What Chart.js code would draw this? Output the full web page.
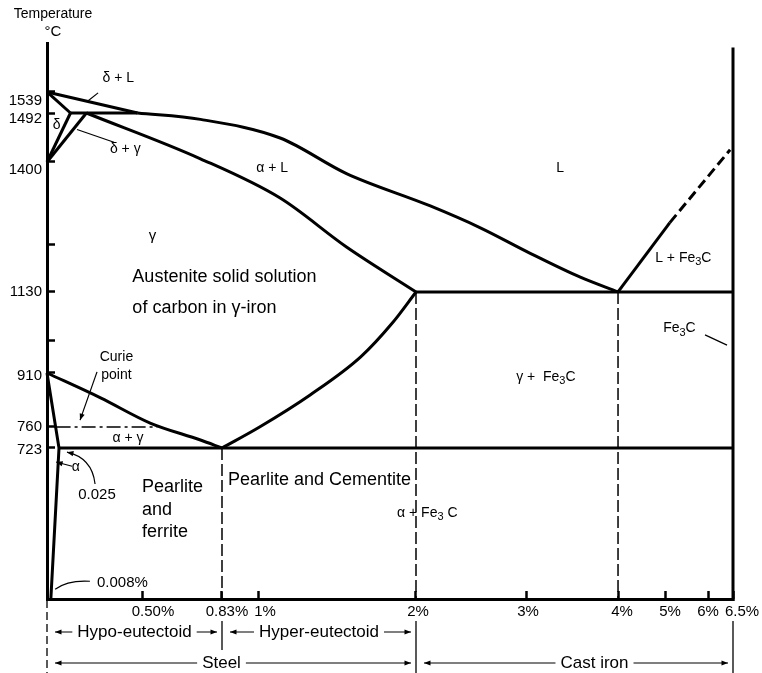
<!DOCTYPE html>
<html>
<head>
<meta charset="utf-8">
<title>Iron-carbon equilibrium diagram</title>
<script src="https://cdn.jsdelivr.net/npm/chart.js@4.4.1/dist/chart.umd.min.js"></script>
<style>
  html, body { margin: 0; padding: 0; background: #fff; }
  #wrap { width: 762px; height: 673px; }
</style>
</head>
<body>
<div id="wrap"><canvas id="diagram" width="762" height="673"></canvas></div>
<script>
// Iron-carbon phase diagram drawn on two non-linear (piecewise) axes

const FONT = "'Liberation Sans', Arial, Helvetica, sans-serif";

// axis ticks
const carbonTicks = [0.5, 0.83, 1, 2, 3, 4, 5, 6, 6.5];
const carbonLabels = ['0.50%', '0.83%', '1%', '2%', '3%', '4%', '5%', '6%', '6.5%'];
const tempTicks = [723, 760, 910, 1000, 1130, 1200, 1400, 1492, 1539];
const tempLabels = ['723', '760', '910', '', '1130', '', '1400', '1492', '1539'];

// phase boundaries, [carbon %, temperature °C]
const deltaLiquidus = [[0, 1539], [0.47, 1492]];
const liquidus = [[0.47, 1492], [0.74, 1480], [1.14, 1445], [1.56, 1372], [2.13, 1294], [2.58, 1242], [3.04, 1188], [3.59, 1152], [4, 1130]];
const deltaSolidus = [[0, 1539], [0.09, 1492]];
const peritectic = [[0.09, 1492], [0.47, 1492]];
const deltaSolvus = [[0.09, 1492], [0, 1400]];
const gammaDelta = [[0.18, 1492], [0, 1400]];
const solidus = [[0.18, 1492], [0.74, 1406], [1.14, 1313], [1.56, 1197], [2, 1130]];
const eutectic = [[2, 1130], [6.5, 1130]];
const cementiteLiquidus = [[4, 1130], [5.11, 1254]];
const cementiteLiquidusExt = [[5.11, 1254], [6.44, 1423]];
const a3Line = [[0, 910], [0.26, 841], [0.53, 771], [0.74, 737], [0.83, 723]];
const acmLine = [[0.83, 723], [1.01, 760], [1.33, 849], [1.65, 954], [1.85, 1046], [2, 1130]];
const ferriteSolvus = [[0, 910], [0.025, 723], [0.008, 400]];
const eutectoid = [[0.025, 723], [6.5, 723]];
const cementiteLine = [[6.5, 400], [6.5, 1640]];
const curieLine = [[0.02, 760], [0.56, 760]];
const eutectoidDrop = [[0.83, 723], [0.83, 400]];
const steelLimit = [[2, 1130], [2, 400]];
const eutecticDrop = [[4, 1130], [4, 400]];

// where each axis value sits along the axis (value, fraction of axis length)
const axisBreaks = {
  x: [[0, 0], [0.025, 0.0175], [0.5, 0.1399], [0.83, 0.2551], [1, 0.3076], [2, 0.5379],
      [3, 0.6983], [4, 0.8324], [5, 0.9009], [6, 0.965], [6.5, 1]],
  y: [[400, 0], [723, 0.2716], [760, 0.3094], [910, 0.4065], [1000, 0.4658], [1130, 0.5522],
      [1200, 0.6367], [1400, 0.786], [1492, 0.8741], [1539, 0.9119], [1650, 1]]
};

// small sideways / downward shifts of the tick labels, in px
const carbonLabelNudge = [10, 5, 7, 2, 2, 4, 5, -1, 9];
const tempLabelNudge = [2, 0, 3, 0, 0, 0, 8, 6, 9];

// region names, placed in axis units
const regionLabels = [
  { text: 'δ + L', x: 0.36, y: 1571, size: 14 },
  { text: 'δ', x: 0.02, y: 1470, size: 14 },
  { text: 'δ + γ', x: 0.40, y: 1425, size: 14 },
  { text: 'α + L', x: 1.09, y: 1386, size: 14 },
  { text: 'L', x: 3.37, y: 1384, size: 14 },
  { text: 'γ', x: 0.54, y: 1221, size: 15 },
  { text: 'Austenite solid solution', x: 0.44, y: 1152, size: 18, align: 'left' },
  { text: 'of carbon in γ-iron', x: 0.44, y: 1087, size: 18, align: 'left' },
  { text: 'L + Fe_3C', x: 4.79, y: 1181, size: 14, align: 'left' },
  { text: 'Fe_3C', x: 4.96, y: 1032, size: 14, align: 'left' },
  { text: 'γ +  Fe_3C', x: 2.91, y: 899, size: 14, align: 'left' },
  { text: 'Curie', x: 0.35, y: 954, size: 14 },
  { text: 'point', x: 0.35, y: 904, size: 14 },
  { text: 'α + γ', x: 0.415, y: 741, size: 14 },
  { text: 'α', x: 0.12, y: 682, size: 14 },
  { text: '0.025', x: 0.24, y: 622, size: 15 },
  { text: 'Pearlite', x: 0.494, y: 640, size: 18, align: 'left' },
  { text: 'and', x: 0.494, y: 590, size: 18, align: 'left' },
  { text: 'ferrite', x: 0.494, y: 543, size: 18, align: 'left' },
  { text: 'Pearlite and Cementite', x: 0.858, y: 655, size: 18, align: 'left' },
  { text: 'α + Fe_3 C', x: 1.88, y: 584, size: 14, align: 'left' },
  { text: '0.008%', x: 0.24, y: 434, size: 15, align: 'left' }
];

// leader lines from labels to the boundaries they name
const leaders = [
  { from: [0.246, 1537], to: [0.183, 1517] },
  { from: [0.336, 1437], to: [0.127, 1461] },
  { from: [0.24, 913], to: [0.144, 779], head: true },
  { from: [0.099, 684], to: [0.019, 693], head: true },
  { from: [0.229, 646], via: [0.212, 702], to: [0.07, 714], head: true },
  { from: [0.2, 438], via: [0.076, 441], to: [0.017, 421] },
  { from: [5.91, 1014], to: [6.375, 986] }
];

// composition ranges under the axis
const rangeBands = [
  { text: 'Hypo-eutectoid', from: 0, to: 0.83, row: 0, shift: 0 },
  { text: 'Hyper-eutectoid', from: 0.83, to: 2, row: 0, shift: 0 },
  { text: 'Steel', from: 0, to: 2, row: 1, shift: -10 },
  { text: 'Cast iron', from: 2, to: 6.5, row: 1, shift: 20 }
];
const bandEdges = [
  { at: 0, top: 1, bottom: 74, dash: [8, 4] },
  { at: 0.83, top: 22, bottom: 51 },
  { at: 2, top: 22, bottom: 74 },
  { at: 6.5, top: 22, bottom: 74 }
];

function toFraction(value, breaks) {
  for (let i = 1; i < breaks.length; i++) {
    const [v0, f0] = breaks[i - 1];
    const [v1, f1] = breaks[i];
    if (value <= v1 || i === breaks.length - 1) {
      return f0 + (value - v0) / (v1 - v0) * (f1 - f0);
    }
  }
  return 0;
}

function fromFraction(frac, breaks) {
  for (let i = 1; i < breaks.length; i++) {
    const [v0, f0] = breaks[i - 1];
    const [v1, f1] = breaks[i];
    if (frac <= f1 || i === breaks.length - 1) {
      return v0 + (frac - f0) / (f1 - f0) * (v1 - v0);
    }
  }
  return 0;
}

// linear scale with kinks at the break values
class BrokenScale extends Chart.LinearScale {
  getPixelForValue(value) {
    return this.getPixelForDecimal(toFraction(value, axisBreaks[this.id]));
  }
  getValueForPixel(pixel) {
    return fromFraction(this.getDecimalForPixel(pixel), axisBreaks[this.id]);
  }
}
BrokenScale.id = 'broken';
BrokenScale.defaults = {};
Chart.register(BrokenScale);

function boundary(points, style) {
  return Object.assign({
    data: points.map(([x, y]) => ({ x, y })),
    showLine: true,
    pointRadius: 0,
    pointHoverRadius: 0,
    borderColor: '#000',
    borderWidth: 3,
    tension: 0,
    fill: false,
    clip: false
  }, style || {});
}

const curved = { cubicInterpolationMode: 'monotone', borderJoinStyle: 'round' };
const dashed = { borderWidth: 1.5, borderDash: [12, 4] };

function arrowHead(ctx, fx, fy, tx, ty, size) {
  const a = Math.atan2(ty - fy, tx - fx);
  ctx.beginPath();
  ctx.moveTo(tx, ty);
  ctx.lineTo(tx - size * Math.cos(a - 0.38), ty - size * Math.sin(a - 0.38));
  ctx.lineTo(tx - size * Math.cos(a + 0.38), ty - size * Math.sin(a + 0.38));
  ctx.closePath();
  ctx.fill();
}

// text with "_3" style subscripts
function drawRich(ctx, text, px, py, size, align) {
  const parts = [];
  text.split(/(_\d)/).forEach(s => {
    if (!s) return;
    if (s[0] === '_') parts.push({ s: s.slice(1), sub: true });
    else parts.push({ s, sub: false });
  });
  const subSize = Math.round(size * 0.75);
  const fontOf = p => `${p.sub ? subSize : size}px ${FONT}`;
  const widths = parts.map(p => { ctx.font = fontOf(p); return ctx.measureText(p.s).width; });
  const total = widths.reduce((a, b) => a + b, 0);
  let cx = px - total / 2;
  if (align === 'left') cx = px;
  if (align === 'right') cx = px - total;
  ctx.textAlign = 'left';
  ctx.textBaseline = 'middle';
  parts.forEach((p, i) => {
    ctx.font = fontOf(p);
    ctx.fillText(p.s, cx, p.sub ? py + size * 0.32 : py);
    cx += widths[i];
  });
  return total;
}

const diagramNotes = {
  id: 'diagramNotes',
  afterDraw(chart) {
    const { ctx, chartArea, scales: { x, y } } = chart;
    ctx.save();
    ctx.fillStyle = '#000';
    ctx.strokeStyle = '#000';

    // axis title
    drawRich(ctx, 'Temperature', chartArea.left + 6, 14, 14);
    drawRich(ctx, '°C', chartArea.left + 6, 32, 15);

    // tick labels
    carbonTicks.forEach((v, i) => {
      drawRich(ctx, carbonLabels[i], x.getPixelForValue(v) + carbonLabelNudge[i], chartArea.bottom + 13, 15);
    });
    tempTicks.forEach((v, i) => {
      if (tempLabels[i]) {
        drawRich(ctx, tempLabels[i], chartArea.left - 5, y.getPixelForValue(v) + tempLabelNudge[i], 15, 'right');
      }
    });

    regionLabels.forEach(l => {
      drawRich(ctx, l.text, x.getPixelForValue(l.x), y.getPixelForValue(l.y), l.size, l.align);
    });

    ctx.lineWidth = 1.2;
    leaders.forEach(l => {
      const fx = x.getPixelForValue(l.from[0]), fy = y.getPixelForValue(l.from[1]);
      const tx = x.getPixelForValue(l.to[0]), ty = y.getPixelForValue(l.to[1]);
      ctx.beginPath();
      ctx.moveTo(fx, fy);
      let hx = fx, hy = fy;
      if (l.via) {
        hx = x.getPixelForValue(l.via[0]);
        hy = y.getPixelForValue(l.via[1]);
        ctx.quadraticCurveTo(hx, hy, tx, ty);
      } else {
        ctx.lineTo(tx, ty);
      }
      ctx.stroke();
      if (l.head) arrowHead(ctx, hx, hy, tx, ty, 7);
    });

    // composition ranges below the axis
    const base = chartArea.bottom;
    ctx.lineWidth = 1.3;
    bandEdges.forEach(e => {
      const px = x.getPixelForValue(e.at);
      ctx.setLineDash(e.dash || []);
      ctx.beginPath();
      ctx.moveTo(px, base + e.top);
      ctx.lineTo(px, base + e.bottom);
      ctx.stroke();
    });
    ctx.setLineDash([]);

    rangeBands.forEach(b => {
      const x0 = x.getPixelForValue(b.from) + 8;
      const x1 = x.getPixelForValue(b.to) - 5;
      const cy = base + 33 + b.row * 31;
      const mid = (x.getPixelForValue(b.from) + x.getPixelForValue(b.to)) / 2 + b.shift;
      ctx.font = `17px ${FONT}`;
      const w = ctx.measureText(b.text).width;
      drawRich(ctx, b.text, mid, cy, 17);
      ctx.lineWidth = 1.2;
      ctx.beginPath();
      ctx.moveTo(x0, cy);
      ctx.lineTo(mid - w / 2 - 5, cy);
      ctx.moveTo(mid + w / 2 + 5, cy);
      ctx.lineTo(x1, cy);
      ctx.stroke();
      arrowHead(ctx, x0 + 10, cy, x0, cy, 7);
      arrowHead(ctx, x1 - 10, cy, x1, cy, 7);
    });
    ctx.restore();
  }
};

const axisGrid = { drawOnChartArea: false, drawTicks: true, tickLength: -8, tickWidth: 2.5, tickColor: '#000' };

new Chart(document.getElementById('diagram'), {
  type: 'scatter',
  data: {
    datasets: [
      boundary(deltaLiquidus),
      boundary(liquidus, curved),
      boundary(deltaSolidus),
      boundary(peritectic),
      boundary(deltaSolvus),
      boundary(gammaDelta),
      boundary(solidus, curved),
      boundary(eutectic),
      boundary(cementiteLiquidus),
      boundary(cementiteLiquidusExt, { borderDash: [10, 5] }),
      boundary(a3Line, curved),
      boundary(acmLine, curved),
      boundary(ferriteSolvus),
      boundary(eutectoid),
      boundary(cementiteLine),
      boundary(curieLine, { borderWidth: 1.5, borderDash: [14, 4, 3, 4] }),
      boundary(eutectoidDrop, dashed),
      boundary(steelLimit, dashed),
      boundary(eutecticDrop, dashed)
    ]
  },
  options: {
    responsive: false,
    animation: false,
    events: [],
    layout: { padding: { top: 43, right: 29, bottom: 0, left: 0 } },
    plugins: {
      legend: { display: false },
      tooltip: { enabled: false },
      title: { display: false }
    },
    scales: {
      x: {
        type: 'broken',
        min: 0,
        max: 6.5,
        border: { color: '#000', width: 3 },
        grid: axisGrid,
        ticks: { display: false, autoSkip: false, maxRotation: 0 },
        afterBuildTicks: scale => { scale.ticks = carbonTicks.map(value => ({ value })); },
        afterFit: scale => { scale.height = 74; }
      },
      y: {
        type: 'broken',
        min: 400,
        max: 1650,
        border: { color: '#000', width: 3 },
        grid: axisGrid,
        ticks: { display: false, autoSkip: false },
        afterBuildTicks: scale => { scale.ticks = tempTicks.map(value => ({ value })); },
        afterFit: scale => { scale.width = 47; }
      }
    }
  },
  plugins: [diagramNotes]
});
</script>
</body>
</html>
